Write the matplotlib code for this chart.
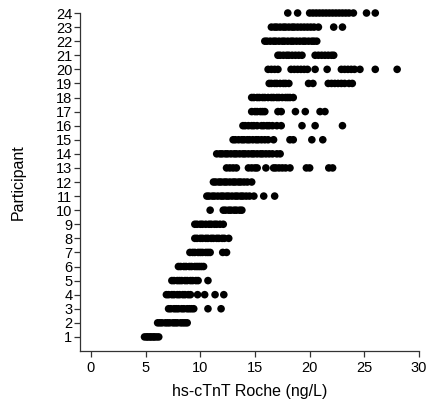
import matplotlib
matplotlib.use("Agg")
import matplotlib.pyplot as plt

plt.rcParams['font.family'] = ['Liberation Sans', 'DejaVu Sans']

# hs-cTnT values (ng/L) per participant
p1 = [4.9, 5.1, 5.2, 5.4, 5.5, 5.7, 5.8, 6.0, 6.2]
p2 = [6.1, 6.3, 6.5, 6.8, 7.0, 7.2, 7.5, 7.7, 7.9, 8.2, 8.4, 8.6, 8.8]
p3 = [7.1, 7.3, 7.6, 7.8, 8.0, 8.3, 8.5, 8.8, 9.0, 9.2, 9.4, 10.7, 11.9]
p4 = [6.9, 7.1, 7.4, 7.6, 7.9, 8.1, 8.4, 8.6, 8.9, 9.1, 9.75, 10.4, 11.35, 12.15]
p5 = [7.4, 7.6, 7.9, 8.1, 8.3, 8.6, 8.8, 9.1, 9.3, 9.6, 9.8, 10.7]
p6 = [8.0, 8.2, 8.5, 8.7, 9.0, 9.2, 9.5, 9.7, 9.9, 10.1, 10.3]
p7 = [9.05, 9.3, 9.5, 9.8, 10.0, 10.2, 10.5, 10.7, 10.9, 12.05, 12.4]
p8 = [9.5, 9.7, 10.0, 10.2, 10.5, 10.7, 11.0, 11.2, 11.5, 11.7, 12.0, 12.2, 12.6]
p9 = [9.5, 9.7, 10.0, 10.2, 10.5, 10.8, 11.0, 11.3, 11.5, 11.8, 12.1]
p10 = [10.9, 12.1, 12.3, 12.6, 12.8, 13.1, 13.3, 13.6, 13.8]
p11 = [10.6, 10.8, 11.1, 11.3, 11.6, 11.9, 12.1, 12.4, 12.6, 12.9, 13.2, 13.4,
       13.7, 13.9, 14.2, 14.5, 14.9, 15.8, 16.8]
p12 = [11.2, 11.4, 11.7, 11.9, 12.2, 12.4, 12.7, 13.0, 13.2, 13.5, 13.7, 14.0,
       14.3, 14.7]
p13 = [12.4, 12.7, 13.0, 13.3, 14.4, 14.7, 15.0, 15.2, 16.0, 16.7, 16.9, 17.2,
       17.5, 17.8, 18.2, 19.7, 20.0, 21.75, 22.1]
p14 = [11.5, 11.8, 12.0, 12.3, 12.5, 12.8, 13.1, 13.3, 13.6, 13.9, 14.1, 14.4,
       14.7, 14.9, 15.2, 15.5, 15.7, 16.0, 16.3, 16.6, 17.0, 17.3]
p15 = [13.0, 13.2, 13.5, 13.8, 14.0, 14.3, 14.5, 14.8, 15.1, 15.3, 15.6, 15.9,
       16.2, 16.7, 18.2, 18.5, 20.2, 21.2]
p16 = [13.9, 14.1, 14.4, 14.7, 14.9, 15.2, 15.6, 15.8, 16.1, 16.3, 16.6, 17.0,
       17.4, 19.3, 20.5, 23.0]
p17 = [14.7, 15.0, 15.2, 15.5, 15.7, 15.9, 17.1, 17.4, 18.7, 19.6, 20.95, 21.4]
p18 = [14.7, 14.9, 15.2, 15.4, 15.7, 15.9, 16.2, 16.5, 16.7, 17.0, 17.2, 17.5,
       17.8, 18.0, 18.2, 18.5]
p19 = [16.3, 16.5, 16.8, 17.0, 17.3, 17.6, 17.8, 18.1, 19.9, 20.3, 21.7, 22.0,
       22.3, 22.6, 22.9, 23.2, 23.6, 23.9]
p20 = [16.2, 16.5, 16.8, 17.1, 18.3, 18.6, 18.9, 19.2, 19.5, 19.8, 20.5, 21.6,
       22.9, 23.2, 23.5, 23.8, 24.1, 24.6, 26.0, 28.0]
p21 = [17.1, 17.3, 17.6, 17.9, 18.1, 18.4, 18.7, 19.0, 19.3, 20.5, 20.8, 21.1,
       21.4, 21.7, 22.0, 22.2]
p22 = [15.9, 16.1, 16.4, 16.7, 16.9, 17.2, 17.5, 17.7, 18.0, 18.3, 18.5, 18.8,
       19.1, 19.4, 19.6, 19.9, 20.2, 20.4, 20.65]
p23 = [16.5, 16.8, 17.0, 17.3, 17.6, 17.8, 18.1, 18.4, 18.6, 18.9, 19.2, 19.5,
       19.8, 20.1, 20.4, 20.8, 22.2, 23.0]
p24 = [18.0, 18.9, 20.0, 20.3, 20.6, 20.9, 21.2, 21.5, 21.8, 22.1, 22.4, 22.7,
       23.0, 23.3, 23.6, 24.0, 25.2, 26.0]

participants = [p1, p2, p3, p4, p5, p6, p7, p8, p9, p10, p11, p12,
                p13, p14, p15, p16, p17, p18, p19, p20, p21, p22, p23, p24]
x_ticks = [0, 5, 10, 15, 20, 25, 30]

fig = plt.figure(figsize=(4.29, 4.08), dpi=100)
ax = fig.add_axes([0.1865, 0.1397, 0.7902, 0.8284])

for i, vals in enumerate(participants, start=1):
    ax.scatter(vals, [i] * len(vals), s=30, color='black', edgecolors='none',
               clip_on=False, zorder=3)

ax.set_xlim(-1, 30)
ax.set_ylim(0, 24)
ax.set_xticks(x_ticks)
ax.set_yticks(range(1, 25))

for side in ['top', 'right']:
    ax.spines[side].set_visible(False)
for side in ['left', 'bottom']:
    ax.spines[side].set_linewidth(0.9)
    ax.spines[side].set_color('#333333')

ax.tick_params(axis='both', direction='out', length=4, width=0.9,
               color='#333333', labelsize=10.5, pad=1.5)
ax.tick_params(axis='x', pad=3)

ax.set_xlabel('hs-cTnT Roche (ng/L)', fontsize=11.5, labelpad=7)
ax.set_ylabel('Participant', fontsize=11.5, labelpad=22)

fig.savefig('out.png', dpi=100)
